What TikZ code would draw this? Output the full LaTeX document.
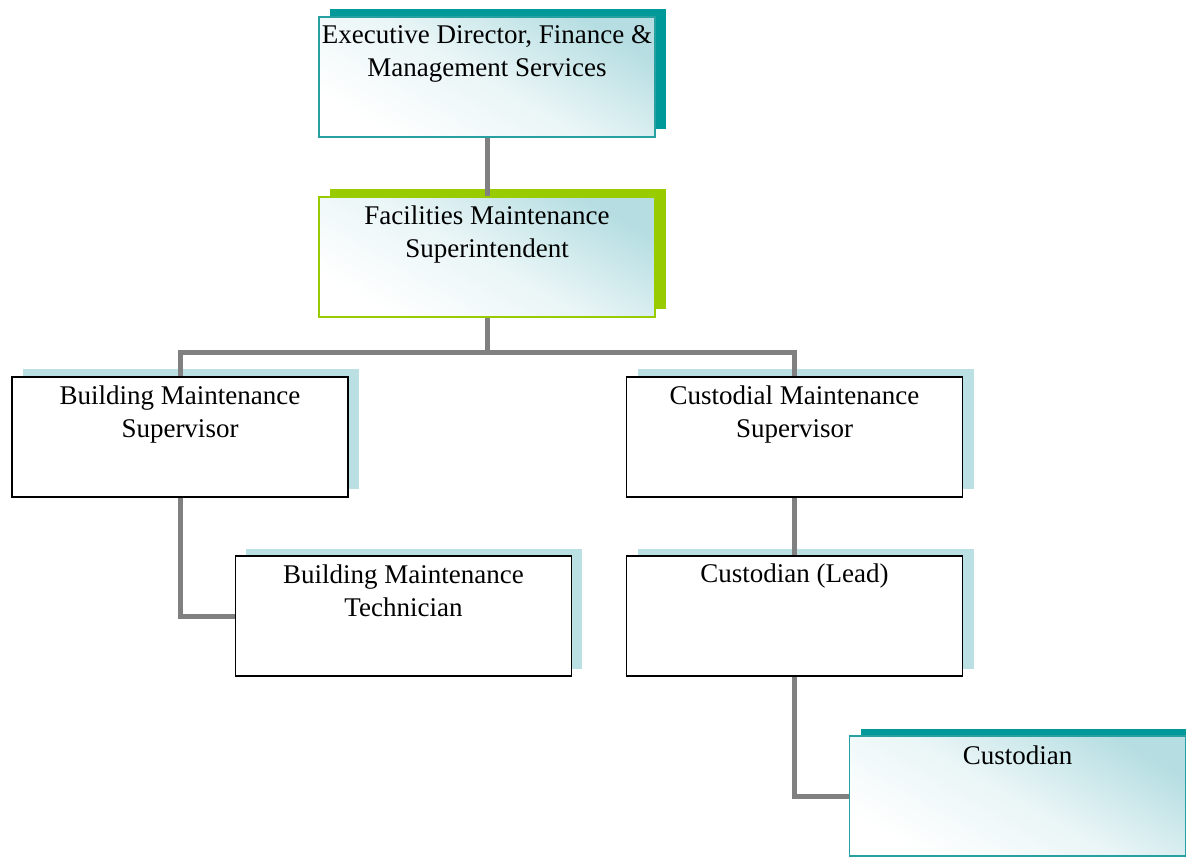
\documentclass[tikz,border=0pt]{standalone}
\usepackage{fontspec}
\setmainfont{Liberation Serif}
\definecolor{tealD}{RGB}{0,153,153}
\definecolor{tealB}{RGB}{38,160,160}
\definecolor{greenD}{RGB}{153,204,0}
\definecolor{lightB}{RGB}{187,224,228}
\definecolor{gradT}{RGB}{182,222,226}
\definecolor{connG}{RGB}{128,128,128}
\tikzset{
  box/.style={rectangle, minimum width=336pt, minimum height=120pt, inner sep=0pt, line width=1.5pt},
  shadowbox/.style={rectangle, minimum width=336pt, minimum height=120pt, inner sep=0pt, draw=none},
  grad/.style={top color=gradT, bottom color=white, middle color=white!70!gradT, shading angle=-30},
  txt/.style={anchor=north, align=center, inner sep=0pt, font=\fontsize{27}{33}\selectfont},
  conn/.style={draw=connG, line width=5pt}
}
\begin{document}
\begin{tikzpicture}[x=1pt, y=-1pt]
\useasboundingbox (0,0) rectangle (1186,857);
% shadows
\node[shadowbox, fill=tealD] (execS) at (498,68.5) {};
\node[shadowbox, fill=greenD] (facS) at (498,248.5) {};
\node[shadowbox, fill=lightB] (bmsS) at (191,428.5) {};
\node[shadowbox, fill=lightB] (cmsS) at (805.5,428.5) {};
\node[shadowbox, fill=lightB] (bmtS) at (414,608.5) {};
\node[shadowbox, fill=lightB] (clS) at (805.5,608.5) {};
\node[shadowbox, fill=tealD] (custS) at (1028.5,788.5) {};
% boxes (coordinates for connectors)
\node[box] (exec) at (487,77) {};
\node[box] (fac) at (487,257) {};
\node[box] (bms) at (180,437) {};
\node[box] (cms) at (794.5,437) {};
\node[box] (bmt) at (403.5,616) {};
\node[box] (cl) at (794.5,616) {};
\node[box] (cust) at (1017.5,796) {};
% connectors
\draw[conn] (exec.south) -- (fac.north);
\draw[conn] (fac.south) -- ++(0,35) -| (bms.north);
\draw[conn] (fac.south) -- ++(0,35) -| (cms.north);
\draw[conn] (bms.south) |- (bmt.west);
\draw[conn] (cms.south) -- (cl.north);
\draw[conn] (cl.south) |- (cust.west);
% box faces
\node[box, draw=tealB, grad] (execF) at (exec) {};
\node[box, draw=greenD, grad] (facF) at (fac) {};
\node[box, draw=black, fill=white] (bmsF) at (bms) {};
\node[box, draw=black, fill=white] (cmsF) at (cms) {};
\node[box, draw=black, fill=white] (bmtF) at (bmt) {};
\node[box, draw=black, fill=white] (clF) at (cl) {};
\node[box, draw=tealB, grad] (custF) at (cust) {};
% texts
\node[txt] (execT) at ([yshift=-9.5pt]exec.north) {Executive Director, Finance \&\\Management Services};
\node[txt] (facT) at ([yshift=-9.5pt]fac.north) {Facilities Maintenance\\Superintendent};
\node[txt] (bmsT) at ([yshift=-9.5pt]bms.north) {Building Maintenance\\Supervisor};
\node[txt] (cmsT) at ([yshift=-9.5pt]cms.north) {Custodial Maintenance\\Supervisor};
\node[txt] (bmtT) at ([yshift=-9.5pt]bmt.north) {Building Maintenance\\Technician};
\node[txt] (clT) at ([yshift=-8pt]cl.north) {Custodian (Lead)};
\node[txt] (custT) at ([yshift=-10pt]cust.north) {Custodian};
\end{tikzpicture}
\end{document}
